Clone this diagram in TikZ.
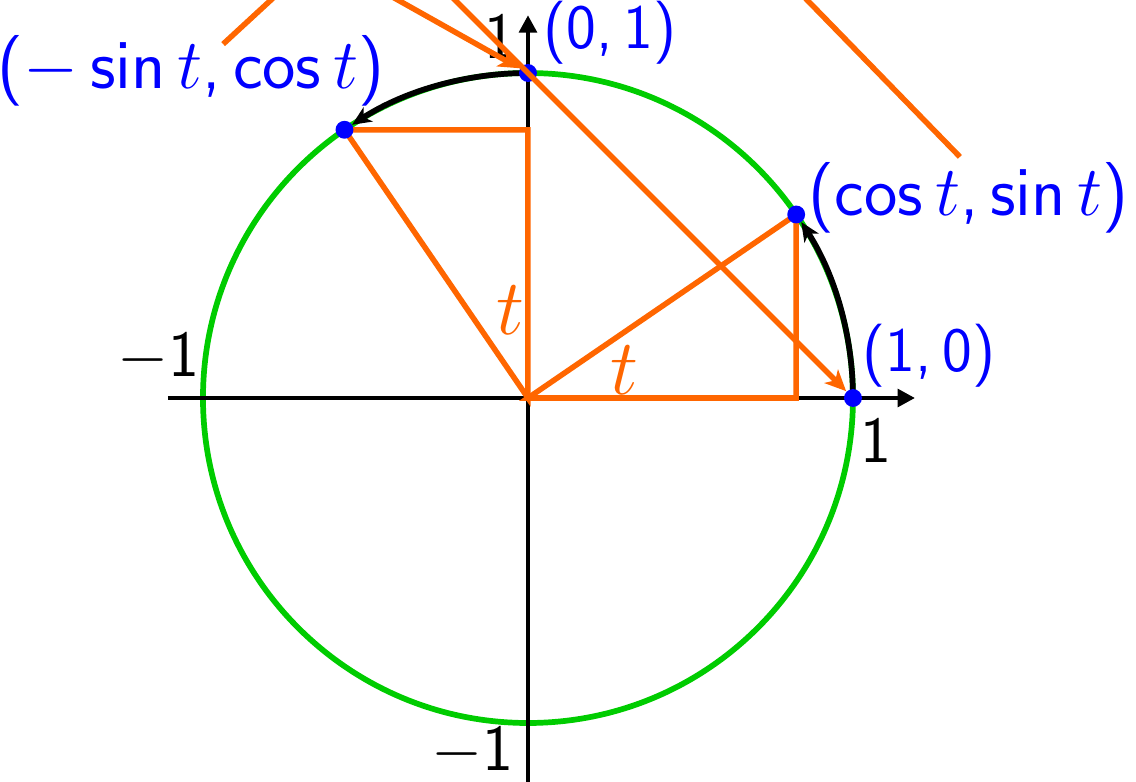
\documentclass[tikz,border=0pt]{standalone}
\usepackage{fix-cm}
\usetikzlibrary{arrows.meta, calc}
\definecolor{arcgreen}{RGB}{0,204,0}
\definecolor{triorange}{RGB}{255,102,0}
\tikzset{
  axis/.style={
    line width=1.2pt, draw=black, -{Triangle[length=4.6pt, width=4.6pt]},
  },
  unitcircle/.style={
    line width=1.5pt, draw=arcgreen,
  },
  tri/.style={
    line width=1.45pt, draw=triorange, line join=miter,
  },
  pointer/.style={
    line width=1.45pt, draw=triorange,
  },
  pointer arrow/.style={
    pointer, -{Stealth[length=5.5pt, width=5pt, inset=1.5pt]},
  },
  arcarrow/.style={
    line width=1.5pt, draw=black, -{Stealth[length=5pt, width=4.4pt, inset=1.4pt]},
  },
  dot/.style={
    circle, fill=blue, inner sep=0pt, minimum size=4.7pt,
  },
  ptlabel/.style={
    text=blue, font=\fontsize{16.6}{20}\selectfont\sffamily, inner sep=0pt,
  },
  trig label/.style={
    ptlabel, font=\fontsize{18.6}{22}\selectfont\sffamily,
  },
  axlabel/.style={
    font=\LARGE\sffamily, inner sep=0pt,
  },
  tlabel/.style={
    text=triorange, font=\huge, inner sep=0pt,
  }
}
\def\tang{34.38}

\begin{document}
\begin{tikzpicture}[x=3cm, y=3cm]

  \useasboundingbox (-1.6246,-1.1785) rectangle (1.8708,1.2246);
  \clip (-1.6246,-1.1785) rectangle (1.8708,1.2246);

  \coordinate (O) at (0,0);
  \coordinate (P) at ({cos(\tang)},{sin(\tang)});
  \coordinate (Q) at ({-sin(\tang)},{cos(\tang)});

  \draw[unitcircle] (O) circle[radius=1];

  \coordinate (xl) at (-1.108,0);
  \coordinate (xr) at (1.191,0);
  \coordinate (yb) at (0,-1.25);
  \coordinate (yt) at (0,1.178);
  \draw[axis] (xl) -- (xr);
  \draw[axis] (yb) -- (yt);

  \node[axlabel] (ytop) at (-0.086,1.114) {1};
  \node[axlabel] (xone) at (1.071,-0.129) {1};
  \node[axlabel] (xmin) at (-1.138,0.126) {$-$1};
  \node[axlabel] (ymin) at (-0.172,-1.086) {$-$1};

  % the two right triangles
  \draw[tri] (O) -- (P) -- (P |- O) -- cycle;
  \draw[tri] (O) -- (Q) -- (O |- Q) -- cycle;
  \node[tlabel] (tv) at (-0.055,0.271) {$t$};
  \node[tlabel] (th) at (0.298,0.086) {$t$};

  \draw[arcarrow] (1,0) arc[start angle=0, end angle=\tang-1.6, radius=1];
  \draw[arcarrow] (0,1) arc[start angle=90, end angle=90+\tang-1.6, radius=1];

  \node[dot] (p10) at (1,0) {};
  \node[dot] (p01) at (0,1) {};
  \node[dot] (pP) at (P) {};
  \node[dot] (pQ) at (Q) {};

  \node[trig label, anchor=west] (lP) at (0.862,0.615) {(cos\,$t$,\,sin\,$t$)};
  \node[trig label, anchor=east] (lQ) at (-0.44,1.006) {($-$\,sin\,$t$,\,cos\,$t$)};
  \node[ptlabel, anchor=west] (l01) at (0.046,1.123) {(0,\,1)};
  \node[ptlabel, anchor=west] (l10) at (1.028,0.129) {(1,\,0)};

  % pointers running off the top
  \coordinate (s1) at (-0.938,1.089);
  \coordinate (e1) at (-0.438,1.55);
  \coordinate (s2) at (-0.8,1.449);
  \coordinate (s3) at (-0.5,1.5);
  \coordinate (s4) at (1.329,0.742);
  \coordinate (e4) at (0.729,1.358);
  \draw[pointer] (s1) -- (e1);
  \draw[pointer arrow] (s2) -- (p01);
  \draw[pointer arrow] (s3) -- (p10);
  \draw[pointer] (s4) -- (e4);

\end{tikzpicture}
\end{document}
